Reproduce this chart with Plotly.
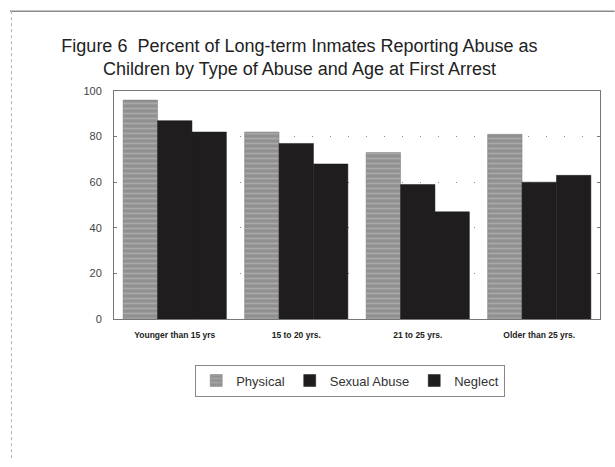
import plotly.graph_objects as go

# Age at first arrest (category axis)
age_groups = ["Younger than 15 yrs", "15 to 20 yrs.", "21 to 25 yrs.", "Older than 25 yrs."]

# Percent reporting each type of childhood abuse
physical = [96, 82, 73, 81]
sexual_abuse = [87, 77, 59, 60]
neglect = [82, 68, 47, 63]

y_ticks = [0, 20, 40, 60, 80, 100]

fig = go.Figure()

fig.add_trace(go.Bar(
    name="Physical", x=age_groups, y=physical,
    marker=dict(color="#909090",
                line=dict(color="#7a7a7a", width=0.5),
                pattern=dict(shape="-", fgcolor="#c2c2c2", size=5, solidity=0.35)),
))
fig.add_trace(go.Bar(
    name="Sexual Abuse", x=age_groups, y=sexual_abuse,
    marker=dict(color="#1f1d1e", line=dict(color="#1f1d1e", width=0.5)),
))
fig.add_trace(go.Bar(
    name="Neglect", x=age_groups, y=neglect,
    marker=dict(color="#1f1d1e", line=dict(color="#1f1d1e", width=0.5)),
))

fig.update_layout(
    width=615, height=467,
    paper_bgcolor="white", plot_bgcolor="white",
    margin=dict(l=114, r=15, t=91, b=148),
    barmode="group", bargap=0.15, bargroupgap=0,
    font=dict(family="Liberation Sans, Arial, sans-serif", color="#222222"),
    title=dict(
        text="Figure 6  Percent of Long-term Inmates Reporting Abuse as<br>"
             "Children by Type of Abuse and Age at First Arrest",
        x=0.487, xanchor="center", xref="container",
        y=0.889, yanchor="middle",
        font=dict(size=18, color="#222222"),
    ),
    legend=dict(
        orientation="h", x=0.486, xanchor="center", y=-0.27, yanchor="middle",
        bordercolor="#888888", borderwidth=1,
        font=dict(size=13, color="#333333"),
        itemwidth=30, traceorder="normal",
    ),
    showlegend=True,
)

fig.update_xaxes(
    showline=True, linecolor="#777777", linewidth=1, mirror=True,
    ticks="", ticklabelstandoff=8,
    tickfont=dict(size=8.5, color="#222222", family="Liberation Sans, Arial, sans-serif", weight="bold"),
    showgrid=False,
)
fig.update_yaxes(
    range=[0, 100], tickvals=y_ticks,
    showline=True, linecolor="#777777", linewidth=1, mirror="ticks",
    ticks="inside", ticklen=3, tickcolor="#777777", ticklabelstandoff=9,
    tickfont=dict(size=11, color="#444444"),
    showgrid=True, gridcolor="#8a8a8a", griddash="1px,17px", gridwidth=1,
    zeroline=False,
)

# Outer frame around the whole figure (top and left edges)
fig.add_shape(type="line", xref="paper", yref="paper",
              x0=-0.214, x1=1.03, y0=1.35, y1=1.35,
              line=dict(color="#8a8a8a", width=1.5))
fig.add_shape(type="line", xref="paper", yref="paper",
              x0=-0.211, x1=-0.211, y0=1.35, y1=-0.62,
              line=dict(color="#b0b0b0", width=1, dash="dot"))

fig.write_html("out.html")
